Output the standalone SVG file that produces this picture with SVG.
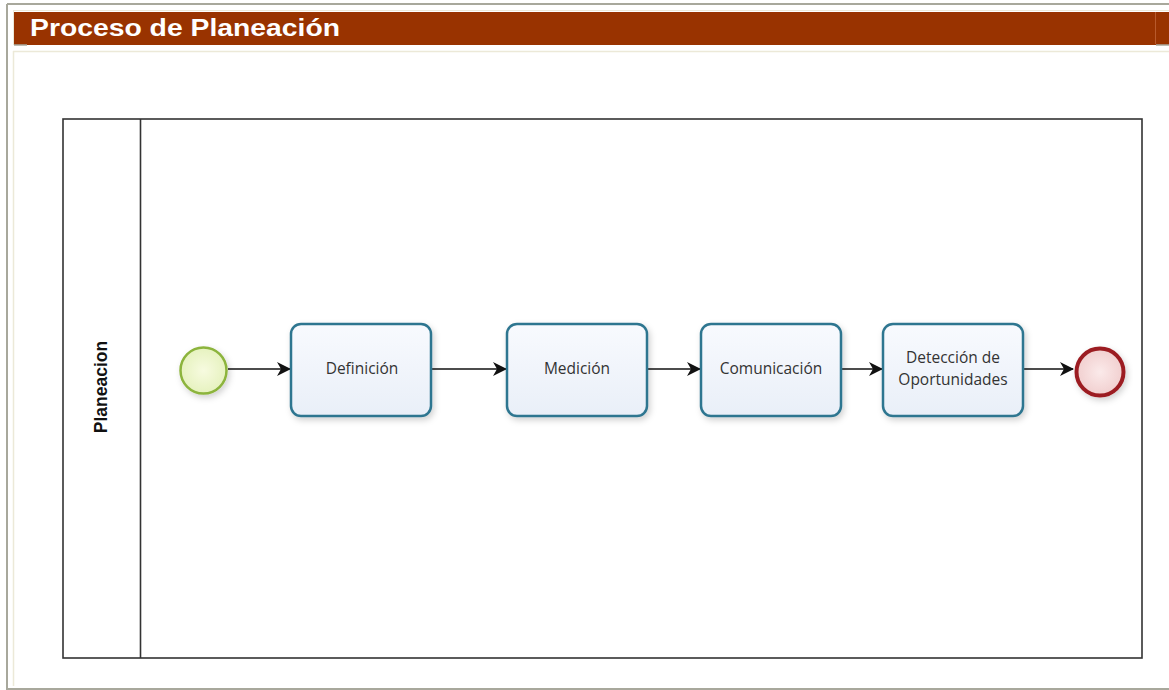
<svg xmlns="http://www.w3.org/2000/svg" width="1169" height="690" viewBox="0 0 1169 690">
  <style>
    .task { fill: url(#taskFill); stroke: #2f7690; stroke-width: 2.5; filter: url(#shadow); }
    .label { font-family: "Open Sans", "Liberation Sans", sans-serif; font-size: 15.5px; fill: #333333; text-anchor: middle; }
    .flow { stroke: #111111; stroke-width: 1.4; fill: none; marker-end: url(#arrow); }
    .pool { fill: #ffffff; stroke: #333333; stroke-width: 1.6; }
  </style>
  <defs>
    <linearGradient id="taskFill" x1="0" y1="0" x2="0" y2="1">
      <stop offset="0" stop-color="#f8fafe"/>
      <stop offset="1" stop-color="#e9eff8"/>
    </linearGradient>
    <radialGradient id="startFill" cx="0.5" cy="0.5" r="0.5">
      <stop offset="0" stop-color="#f7fbe0"/>
      <stop offset="1" stop-color="#e6f2bf"/>
    </radialGradient>
    <radialGradient id="endFill" cx="0.5" cy="0.5" r="0.5">
      <stop offset="0" stop-color="#fbeaea"/>
      <stop offset="1" stop-color="#f1cfcf"/>
    </radialGradient>
    <filter id="shadow" x="-20%" y="-20%" width="140%" height="150%">
      <feDropShadow dx="2" dy="3" stdDeviation="3" flood-color="#000000" flood-opacity="0.18"/>
    </filter>
    <marker id="arrow" viewBox="0 0 14 14" refX="13" refY="7" markerWidth="14" markerHeight="14" markerUnits="userSpaceOnUse" orient="auto">
      <path d="M0,0 L14,7 L0,14 L4,7 Z" fill="#111111"/>
    </marker>
  </defs>

  <!-- page frame -->
  <rect x="0" y="0" width="1169" height="690" fill="#ffffff"/>
  <line x1="7" y1="4" x2="1169" y2="4" stroke="#a8a89c" stroke-width="2"/>
  <line x1="7" y1="4" x2="7" y2="690" stroke="#a8a89c" stroke-width="2"/>
  <line x1="7" y1="689" x2="1169" y2="689" stroke="#a8a89c" stroke-width="2"/>
  <line x1="13" y1="10.5" x2="1169" y2="10.5" stroke="#ece9d8" stroke-width="1"/>
  <line x1="13.5" y1="11" x2="13.5" y2="45" stroke="#ece9d8" stroke-width="1"/>
  <line x1="13" y1="51.5" x2="1169" y2="51.5" stroke="#ece9d8" stroke-width="1.5"/>
  <line x1="13.5" y1="51" x2="13.5" y2="686" stroke="#ece9d8" stroke-width="1.5"/>

  <!-- header bar -->
  <g id="header">
    <rect x="14" y="12" width="1155" height="33" fill="#993300"/>
    <line x1="14" y1="45" x2="27" y2="45" stroke="#a8a89c" stroke-width="1.5"/>
    <line x1="1155.5" y1="12" x2="1155.5" y2="44" stroke="#b85a2c" stroke-width="1"/>
    <line x1="1156" y1="45" x2="1169" y2="45" stroke="#a8a89c" stroke-width="1.5"/>
    <text x="30" y="35.5" font-family="'Liberation Sans', Arial, sans-serif" font-size="23.5" font-weight="bold" fill="#ffffff" textLength="310" lengthAdjust="spacingAndGlyphs">Proceso de Planeación</text>
  </g>

  <!-- pool with a single lane -->
  <g id="pool">
    <rect class="pool" x="63" y="119" width="1079" height="539"/>
    <line x1="140.5" y1="119" x2="140.5" y2="658" stroke="#333333" stroke-width="1.6"/>
    <text transform="translate(107,387) rotate(-90)" font-family="'Liberation Sans', Arial, sans-serif" font-size="17.5" font-weight="bold" fill="#111111" text-anchor="middle">Planeacion</text>
  </g>

  <!-- sequence flows -->
  <g id="connectors">
    <line class="flow" x1="228" y1="369" x2="290" y2="369"/>
    <line class="flow" x1="432" y1="369" x2="506" y2="369"/>
    <line class="flow" x1="648" y1="369" x2="700" y2="369"/>
    <line class="flow" x1="842" y1="369" x2="882" y2="369"/>
    <line class="flow" x1="1024" y1="369" x2="1073" y2="369"/>
  </g>

  <g id="start">
    <circle cx="203.5" cy="370.5" r="23" fill="url(#startFill)" stroke="#8cb43c" stroke-width="2.5" filter="url(#shadow)"/>
  </g>

  <g id="definicion">
    <rect class="task" x="291" y="324" width="140" height="92" rx="10"/>
    <text class="label" x="362" y="374">Definición</text>
  </g>

  <g id="medicion">
    <rect class="task" x="507" y="324" width="140" height="92" rx="10"/>
    <text class="label" x="577" y="374">Medición</text>
  </g>

  <g id="comunicacion">
    <rect class="task" x="701" y="324" width="140" height="92" rx="10"/>
    <text class="label" x="771" y="374">Comunicación</text>
  </g>

  <g id="deteccion">
    <rect class="task" x="883" y="324" width="140" height="92" rx="10"/>
    <text class="label" x="953" y="362.5">Detección de</text>
    <text class="label" x="953" y="385">Oportunidades</text>
  </g>

  <g id="end">
    <circle cx="1100" cy="372" r="23.5" fill="url(#endFill)" stroke="#9c1f22" stroke-width="4" filter="url(#shadow)"/>
  </g>
</svg>
